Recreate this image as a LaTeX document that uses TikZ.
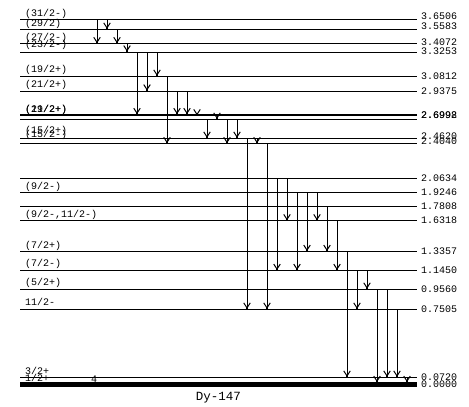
\documentclass[tikz,border=0pt]{standalone}
\usepackage{fontspec}
\setmonofont{Liberation Mono}
\usetikzlibrary{arrows.meta}
\begin{document}
\begin{tikzpicture}[x=1pt,y=-1pt,
  lvl/.style={line width=1pt},
  gam/.style={line width=1pt,-{Straight Barb[length=5pt,width=6.5pt,line width=1pt]}},
  elab/.style={anchor=base west,inner sep=0pt,font=\ttfamily\fontsize{10}{10}\selectfont},
  jlab/.style={anchor=base west,inner sep=0pt,font=\ttfamily\fontsize{10}{10}\selectfont},
  tlab/.style={anchor=base,inner sep=0pt,font=\ttfamily\fontsize{12.5}{12.5}\selectfont}]
\useasboundingbox (0,0) rectangle (469,407);
\fill[white] (0,0) rectangle (469,407);
% level positions (pixels)
\def\yA{19.3}\def\yB{29.3}\def\yC{43.7}\def\yD{52}\def\yE{76.3}\def\yF{91}
\def\yGa{114.6}\def\yGb{115.8}\def\yH{119.3}\def\yI{138.3}\def\yJ{143.7}
\def\yK{178.3}\def\yL{192.7}\def\yM{206.7}\def\yN{220.8}\def\yO{251.5}
\def\yP{270.5}\def\yQ{289.2}\def\yR{309.3}\def\yS{377.3}\def\yT{382.5}
% levels
\foreach \y in {\yA,\yB,\yC,\yD,\yE,\yF,\yGa,\yGb,\yH,\yI,\yJ,\yK,\yL,\yM,\yN,\yO,\yP,\yQ,\yR,\yS}
  \draw[lvl] (20,\y) -- (417,\y);
\fill (20,382) rectangle (417,387);
% gamma transitions
\foreach \x/\a/\b in {97/\yA/\yC,107/\yA/\yB,117/\yB/\yC,127/\yC/\yD,137/\yD/\yGa,
  147/\yD/\yF,157/\yD/\yE,167/\yE/\yJ,177/\yF/\yGa,187/\yF/\yGa,197/\yGa/\yGb,
  207/\yH/\yI,217/\yGb/\yH,227/\yH/\yJ,237/\yH/\yI,247/\yI/\yR,257/\yI/\yJ,
  267/\yJ/\yR,277/\yK/\yP,287/\yK/\yN,297/\yL/\yP,307/\yL/\yO,317/\yL/\yN,
  327/\yM/\yO,337/\yN/\yP,347/\yO/\yS,357/\yP/\yR,367/\yP/\yQ,377/\yQ/\yT,
  387/\yQ/\yS,397/\yR/\yS,407/\yS/\yT}
  {\draw[gam] (\x,\a) -- (\x,\b-0.5);
   \fill (\x-0.9,\b-2) rectangle (\x+0.9,\b-0.4);}
% energy labels
\foreach \t/\y [count=\i] in {3.6506/16.5,3.5583/26,3.4072/42,3.3253/51.5,3.0812/76,
  2.9375/91,2.6998/114.8,2.6992/114.8,2.4620/135.8,2.4040/141.2,2.0634/178,
  1.9246/192.5,1.7808/206.5,1.6318/220.5,1.3357/251,1.1450/270,0.9560/289,
  0.7505/309,0.0720/377,0.0000/384.5}
  \node[elab] (e\i) at (421,\y+3.3) {\t};
% spin labels
\foreach \t/\y [count=\i] in {{(31/2-)}/16.5,{(29/2)}/26,{(27/2-)}/40.5,{(23/2-)}/47.5,
  {(19/2+)}/72.5,{(21/2+)}/87.5,{(19/2+)}/112.3,{(21/2+)}/112.3,{(15/2+)}/133,{(15/2-)}/137.5,
  {(9/2-)}/189,{(9/2-,11/2-)}/217.3,{(7/2+)}/248.3,{(7/2-)}/266.7,{(5/2+)}/285.7,
  {11/2-}/305.7,{3/2+}/374.3,{1/2+}/381}
  \node[jlab] (j\i) at (25,\y) {\t};
\node[jlab] (hl) at (91,382.5) {4};
\node[tlab] (title) at (218.5,400) {Dy-147};
\end{tikzpicture}
\end{document}
